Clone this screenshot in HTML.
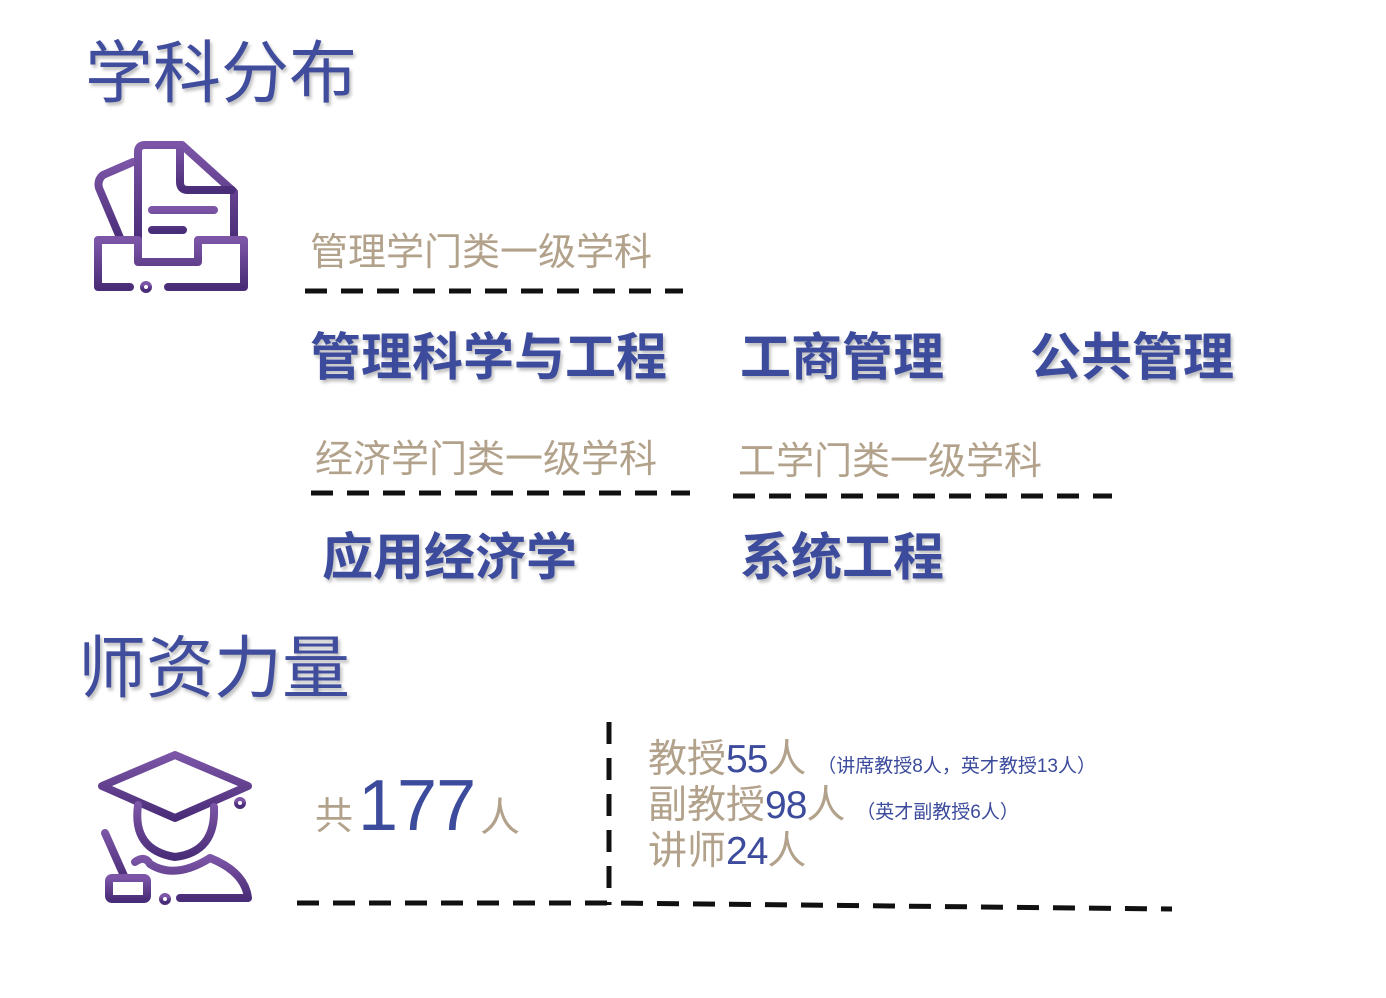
<!DOCTYPE html>
<html><head><meta charset="utf-8"><style>
body{margin:0;width:1386px;height:998px;background:#fff;position:relative;overflow:hidden;font-family:"Liberation Sans","Noto Sans CJK SC",sans-serif}
.a{position:absolute;white-space:nowrap;line-height:1}
.t{color:#404c9c;font-size:68px;text-shadow:2px 3px 3px rgba(0,0,0,.25)}
.g{color:#b3a28b;font-size:38px}
.b{color:#3c4b9c;font-size:51px;font-weight:bold;text-shadow:2px 3px 3px rgba(0,0,0,.25)}
.n{color:#3c4b9c;letter-spacing:-1px}
.s{font-size:19px;color:#3c4b9c;letter-spacing:0}
</style></head><body>
<div class="a t" style="left:85px;top:40px">学科分布</div>
<div class="a t" style="left:78px;top:635px">师资力量</div>

<svg class="a" style="left:0;top:0" width="1386" height="998">
<defs><linearGradient id="p" x1="0" y1="0" x2="0" y2="1"><stop offset="0" stop-color="#7c55a6"/><stop offset="1" stop-color="#4a2d78"/></linearGradient></defs>
<g fill="none" stroke="url(#p)" stroke-width="8" stroke-linecap="round" stroke-linejoin="round">
<path d="M133 162 L103 175 Q97 180 99 188 L121 240"/>
<path d="M138 240 V152 Q138 145 145 145 H182 L234 192 V240"/>
<path d="M180 146 V182 Q180 190 188 190 H232"/>
<path d="M152 210 H214 M152 230 H183"/>
<path d="M98 240 H138 V262 H198 V240 H244 V287 H168"/>
<path d="M98 242 V287 H130"/>
<circle cx="146" cy="287" r="2"/>
</g>
<g fill="none" stroke="url(#p)" stroke-width="8" stroke-linecap="round" stroke-linejoin="round">
<path d="M102 786 L175 755 L248 786 L175 818 Z"/>
<path d="M138 805 Q132 850 175 857 Q216 852 214 807"/>
<circle cx="240" cy="803" r="2"/><path d="M240 820 V848"/>
<path d="M105 833 L125 878"/>
<rect x="109" y="878" width="38" height="21" rx="3"/>
<path d="M135 862 Q145 855 150 864 Q175 880 210 858 Q245 872 248 898 H180"/>
<circle cx="165" cy="899" r="2"/>
</g>
<g stroke="#111" stroke-width="5" stroke-dasharray="22 14" fill="none">
<path d="M305 291 H683"/>
<path d="M311 493 H690"/>
<path d="M733 496 H1112"/>
<path d="M297 903 H610 L1172 909"/>
<path d="M609 722 V905"/>
</g>
</svg>

<div class="a g" style="left:310px;top:234px">管理学门类一级学科</div>
<div class="a b" style="left:310px;top:332px">管理科学与工程</div>
<div class="a b" style="left:740px;top:332px">工商管理</div>
<div class="a b" style="left:1030px;top:332px">公共管理</div>
<div class="a g" style="left:315px;top:441px">经济学门类一级学科</div>
<div class="a g" style="left:738px;top:443px">工学门类一级学科</div>
<div class="a b" style="left:322px;top:532px">应用经济学</div>
<div class="a b" style="left:740px;top:532px">系统工程</div>

<div class="a g" style="left:315px;top:798px">共</div>
<div class="a n" style="left:358px;top:770px;font-size:72px">177</div>
<div class="a g" style="left:480px;top:798px;font-size:40px">人</div>

<div class="a g" style="left:648px;top:740px;font-size:39px">教授<span class="n">55</span>人 <span class="s">（讲席教授8人，英才教授13人）</span></div>
<div class="a g" style="left:648px;top:786px;font-size:39px">副教授<span class="n">98</span>人 <span class="s">（英才副教授6人）</span></div>
<div class="a g" style="left:648px;top:832px;font-size:39px">讲师<span class="n">24</span>人</div>
</body></html>
